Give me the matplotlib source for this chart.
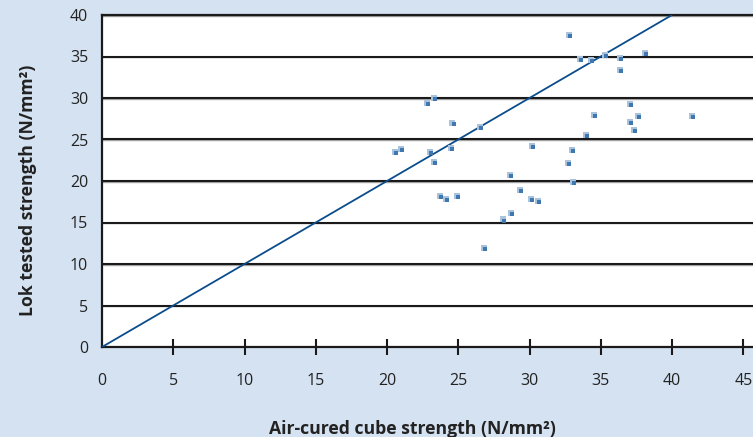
import matplotlib
matplotlib.use("Agg")
import matplotlib.pyplot as plt
from matplotlib.transforms import offset_copy

# Data
air_cured = [22.86, 23.39, 24.67, 26.61, 20.61, 21.06, 23.07, 24.58, 23.39,
             23.80, 24.21, 25.00, 28.73, 29.42, 30.20, 30.67, 28.76, 28.23,
             26.91, 32.86, 33.59, 34.36, 35.35, 36.40, 38.18, 36.42, 37.14,
             34.60, 37.66, 37.12, 37.42, 34.06, 41.49, 30.25, 33.03, 32.75,
             33.14]
lok_tested = [29.24, 29.92, 26.89, 26.42, 23.41, 23.73, 23.34, 23.86, 22.19,
              18.04, 17.70, 18.04, 20.57, 18.80, 17.67, 17.43, 15.99, 15.23,
              11.77, 37.43, 34.58, 34.42, 35.06, 34.70, 35.27, 33.25, 29.16,
              27.83, 27.67, 26.99, 26.02, 25.42, 27.67, 24.10, 23.61, 22.08,
              19.76]
equality_x = [0, 40]
equality_y = [0, 40]
x_ticks = [0, 5, 10, 15, 20, 25, 30, 35, 40, 45]
y_ticks = [0, 5, 10, 15, 20, 25, 30, 35, 40]
x_label = "Air-cured cube strength (N/mm²)"
y_label = "Lok tested strength (N/mm²)"

plt.rcParams['font.family'] = ['Open Sans', 'DejaVu Sans']

bg = '#d5e2f2'
fig = plt.figure(figsize=(7.53, 4.37), dpi=100, facecolor=bg)
ax = fig.add_axes([102/753, 90/437, 651/753, 332/437])
ax.set_facecolor('white')

ax.set_xlim(0, 651/14.25)
ax.set_ylim(0, 40)

# horizontal grid lines (black with a faint grey shade below)
for yv in y_ticks[1:]:
    ax.axhline(yv - 0.1, color='#a8a8a8', lw=1.0, zorder=0.9)
    ax.axhline(yv, color='#1a1a1a', lw=1.5, zorder=1)

ax.plot(equality_x, equality_y, color='#0b4d8c', lw=1.3, zorder=3,
        solid_capstyle='butt')

shadow = offset_copy(ax.transData, fig=fig, x=-0.8, y=0.8, units='points')
ax.scatter(air_cured, lok_tested, marker='s', s=14, color='#a9c3dc',
           linewidths=0, transform=shadow, zorder=4)
ax.scatter(air_cured, lok_tested, marker='s', s=10, color='#3f78b0',
           linewidths=0, zorder=5)

ax.spines['right'].set_visible(False)
for side in ['left', 'bottom', 'top']:
    ax.spines[side].set_color('#1a1a1a')
    ax.spines[side].set_linewidth(1.6)

ax.set_xticks(x_ticks)
ax.set_yticks(y_ticks)
ax.set_xticklabels([str(t) for t in x_ticks])
ax.set_yticklabels([str(t) for t in y_ticks])
ax.tick_params(axis='x', direction='inout', length=12, width=1.5,
               color='#1a1a1a', pad=13, labelsize=11.5, labelcolor='#222222')
ax.tick_params(axis='y', length=0, pad=10, labelsize=11.5,
               labelcolor='#222222')
ax.xaxis.get_ticklines()[0].set_visible(False)
ax.xaxis.get_ticklines()[1].set_visible(False)

fig.text(28/753, 1 - 190/437, y_label, rotation=90, ha='center',
         va='center', fontsize=12.7, fontweight='bold', color='#222222')
fig.text(412/753, 1 - 429/437, x_label, ha='center', va='center',
         fontsize=12.7, fontweight='bold', color='#222222')

fig.savefig('out.png', dpi=100, facecolor=bg)
